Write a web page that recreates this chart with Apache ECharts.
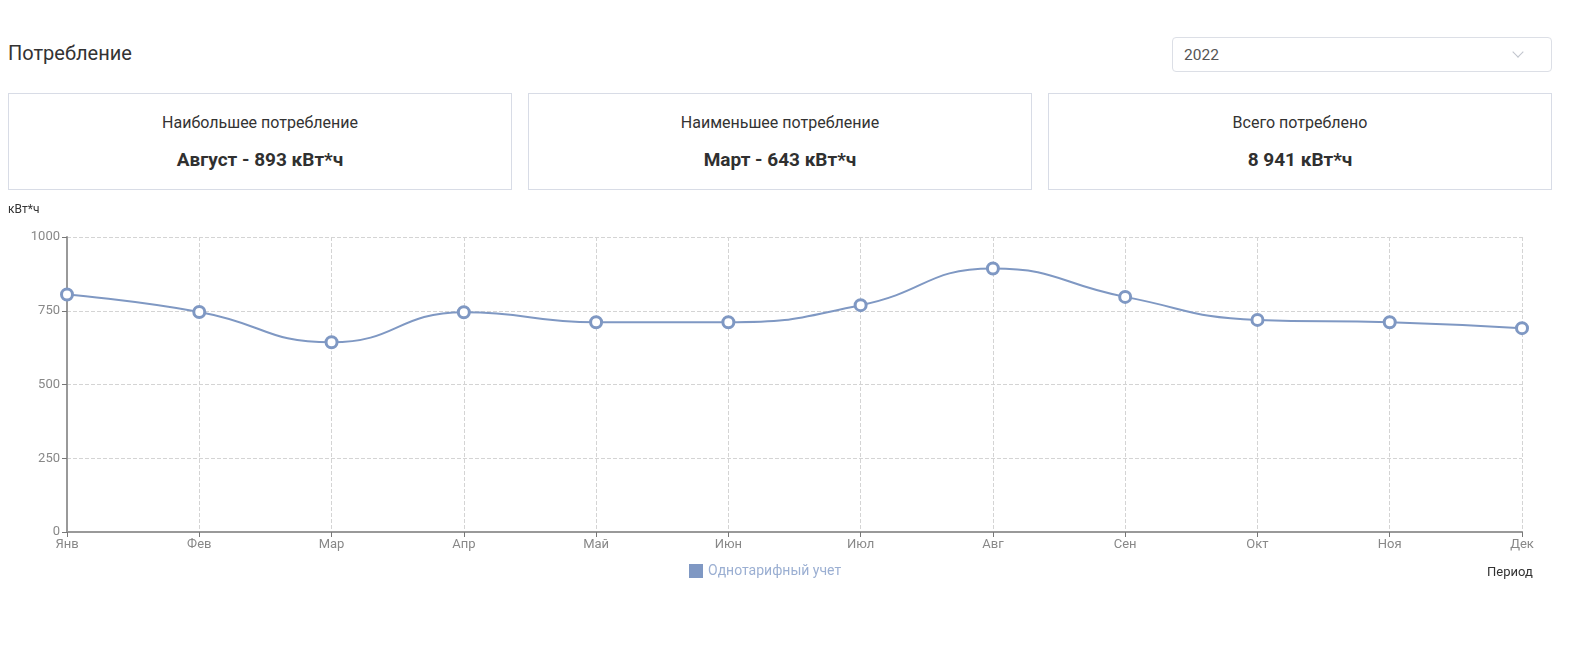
<!DOCTYPE html>
<html>
<head>
<meta charset="utf-8">
<script src="https://cdn.jsdelivr.net/npm/echarts@6/dist/echarts.min.js"></script>
<style>
  body { margin: 0; background: #fff; font-family: Roboto, "Noto Sans", sans-serif; color: #333; }
  .title { position: absolute; left: 8px; top: 41px; font-size: 20px; color: #333; }
  .select { position: absolute; left: 1172px; top: 37px; width: 380px; height: 35px; border: 1px solid #dcdfe6; border-radius: 4px; box-sizing: border-box; }
  .select span { position: absolute; left: 11px; top: 8px; font-size: 15.5px; color: #555; }
  .select i { position: absolute; left: 341px; top: 10px; width: 7px; height: 7px; border-right: 1px solid #c0c4cc; border-bottom: 1px solid #c0c4cc; transform: rotate(45deg); }
  .card { position: absolute; top: 93px; width: 504px; height: 97px; border: 1px solid #d8dce6; box-sizing: border-box; text-align: center; }
  .card .lbl { position: absolute; left: 0; right: 0; top: 19px; font-size: 16px; color: #333; }
  .card .val { position: absolute; left: 0; right: 0; top: 54px; font-size: 19px; font-weight: bold; color: #303030; }
  #chart { position: absolute; left: 0; top: 196px; width: 1570px; height: 400px; }
</style>
</head>
<body>
<div class="title">Потребление</div>
<div class="select"><span>2022</span><i></i></div>
<div class="card" style="left:8px"><div class="lbl">Наибольшее потребление</div><div class="val">Август - 893 кВт*ч</div></div>
<div class="card" style="left:528px"><div class="lbl">Наименьшее потребление</div><div class="val">Март - 643 кВт*ч</div></div>
<div class="card" style="left:1048px"><div class="lbl">Всего потреблено</div><div class="val">8 941 кВт*ч</div></div>
<div id="chart"></div>
<script>
// месяцы и значения потребления, кВт*ч
const months = ['Янв', 'Фев', 'Мар', 'Апр', 'Май', 'Июн', 'Июл', 'Авг', 'Сен', 'Окт', 'Ноя', 'Дек'];
const consumption = [805, 746, 643, 745, 711, 711, 769, 893, 797, 719, 711, 691];
const seriesName = 'Однотарифный учет';
const lineColor = '#7f98c3';

const chart = echarts.init(document.getElementById('chart'));
chart.setOption({
  animation: false,
  textStyle: { fontFamily: 'Roboto' },
  grid: { left: 67, right: 48, top: 41, bottom: 64 },
  legend: {
    data: [{ name: seriesName, itemStyle: { color: lineColor, borderWidth: 0 } }],
    top: 363,
    left: 684,
    icon: 'rect',
    itemWidth: 14,
    itemHeight: 14,
    itemGap: 5,
    textStyle: { color: '#9bafd2', fontSize: 14 }
  },
  xAxis: {
    type: 'category',
    data: months,
    boundaryGap: false,
    name: 'Период',
    nameLocation: 'end',
    nameGap: -35,
    nameTextStyle: { color: '#333', fontSize: 13, align: 'left', verticalAlign: 'top', padding: [34, 0, 0, 0] },
    axisLine: { lineStyle: { color: '#999', width: 2 } },
    axisTick: { length: 5, lineStyle: { color: '#777' } },
    axisLabel: { color: '#888', fontSize: 13, margin: 6 },
    splitLine: { show: true, lineStyle: { color: '#d4d4d4', type: 'dashed' } }
  },
  yAxis: {
    type: 'value',
    min: 0,
    max: 1000,
    interval: 250,
    name: 'кВт*ч',
    nameGap: 21,
    nameTextStyle: { color: '#333', fontSize: 12, align: 'left', padding: [0, 0, 0, -59] },
    axisLine: { show: true, lineStyle: { color: '#999', width: 2 } },
    axisTick: { show: true, length: 5, lineStyle: { color: '#777' } },
    axisLabel: { color: '#888', fontSize: 13, margin: 7, formatter: v => String(v) },
    splitLine: { show: true, lineStyle: { color: '#d4d4d4', type: 'dashed' } }
  },
  series: [{
    name: seriesName,
    type: 'line',
    data: consumption,
    smooth: true,
    symbol: 'circle',
    symbolSize: 11,
    color: lineColor,
    lineStyle: { width: 2, color: lineColor },
    itemStyle: { color: '#fff', borderColor: lineColor, borderWidth: 3 }
  }]
});
</script>
</body>
</html>
